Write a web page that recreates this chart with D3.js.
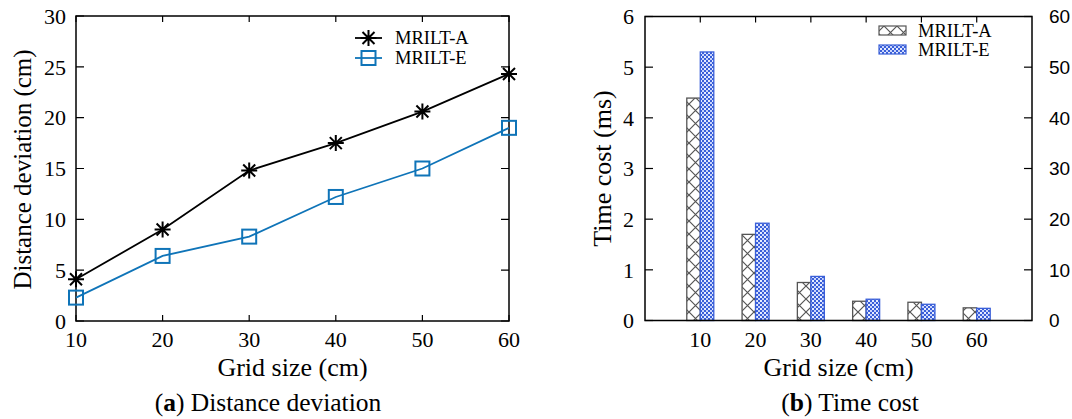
<!DOCTYPE html>
<html>
<head>
<meta charset="utf-8">
<script src="https://cdn.jsdelivr.net/npm/d3@7"></script>
<style>
  body { margin: 0; background: #fff; }
  text { font-family: "Liberation Serif", "Times New Roman", serif; fill: #000; }
</style>
</head>
<body>
<script>
// values
const gridSizes = [10, 20, 30, 40, 50, 60];
const seriesNames = ["MRILT-A", "MRILT-E"];
const deviationA = [4.1, 9.0, 14.8, 17.5, 20.6, 24.3];
const deviationE = [2.3, 6.4, 8.3, 12.2, 15.0, 19.0];
const timeA = [4.39, 1.70, 0.75, 0.38, 0.36, 0.25];
const timeE = [5.30, 1.92, 0.87, 0.42, 0.32, 0.24];
const deviationTicks = [0, 5, 10, 15, 20, 25, 30];
const timeTicks = [0, 1, 2, 3, 4, 5, 6];
const rightTicks = [0, 10, 20, 30, 40, 50, 60];

const width = 1072, height = 419;
const blue = "#0f74b8";
const barBlue = "#3a5fd8";
const tickLen = 8;

const svg = d3.select("body").append("svg")
    .attr("width", width).attr("height", height);

// hatch patterns for the bars
const defs = svg.append("defs");
let cross = defs.append("pattern").attr("id", "cross")
    .attr("patternUnits", "userSpaceOnUse").attr("width", 13).attr("height", 13);
cross.append("rect").attr("width", 13).attr("height", 13).attr("fill", "#fff");
cross.append("path").attr("d", "M0,0L13,13M13,0L0,13")
    .attr("stroke", "#555").attr("stroke-width", 1.2);
let check = defs.append("pattern").attr("id", "check")
    .attr("patternUnits", "userSpaceOnUse").attr("width", 4).attr("height", 4);
check.append("rect").attr("width", 4).attr("height", 4).attr("fill", barBlue);
check.append("rect").attr("width", 2).attr("height", 2).attr("fill", "#e6ecff");
check.append("rect").attr("x", 2).attr("y", 2).attr("width", 2).attr("height", 2).attr("fill", "#c9d4fb");

function frame(g, x0, x1, y0, y1) {
    g.append("rect").attr("x", x0).attr("y", y0)
        .attr("width", x1 - x0).attr("height", y1 - y0)
        .attr("fill", "none").attr("stroke", "#000").attr("stroke-width", 1.5);
}

// ---------- (a) distance deviation ----------
{
    const L = 76, R = 509, T = 16, B = 321;
    const x = d3.scaleLinear().domain([10, 60]).range([L, R]);
    const y = d3.scaleLinear().domain([0, 30]).range([B, T]);
    const g = svg.append("g");

    // inward ticks on all four sides
    g.selectAll(".yt").data(deviationTicks).enter().append("path")
        .attr("d", d => `M${L},${y(d)}h${tickLen}M${R},${y(d)}h${-tickLen}`)
        .attr("stroke", "#000").attr("stroke-width", 1.2);
    g.selectAll(".xt").data(gridSizes).enter().append("path")
        .attr("d", d => `M${x(d)},${T}v${tickLen - 2}M${x(d)},${B}v${-(tickLen - 2)}`)
        .attr("stroke", "#000").attr("stroke-width", 1.2);
    frame(g, L, R, T, B);

    g.selectAll(".yl").data(deviationTicks).enter().append("text")
        .attr("x", L - 10).attr("y", d => y(d)).attr("dy", "0.35em")
        .attr("text-anchor", "end").style("font-size", "22px").text(d => d);
    g.selectAll(".xl").data(gridSizes).enter().append("text")
        .attr("x", d => x(d)).attr("y", 347)
        .attr("text-anchor", "middle").style("font-size", "22px").text(d => d);

    g.append("text").attr("x", (L + R) / 2).attr("y", 376)
        .attr("text-anchor", "middle").style("font-size", "26px").text("Grid size (cm)");
    g.append("text").attr("transform", `translate(31,${(T + B) / 2 + 1}) rotate(-90)`)
        .attr("text-anchor", "middle").style("font-size", "25px").text("Distance deviation (cm)");

    const line = d3.line().x((d, i) => x(gridSizes[i])).y(d => y(d));
    g.append("path").datum(deviationA).attr("d", line)
        .attr("fill", "none").attr("stroke", "#000").attr("stroke-width", 1.8);
    g.append("path").datum(deviationE).attr("d", line)
        .attr("fill", "none").attr("stroke", blue).attr("stroke-width", 1.8);

    const star = "M-8,0H8M0,-8V8M-6,-6L6,6M-6,6L6,-6";
    g.selectAll(".sa").data(deviationA).enter().append("path")
        .attr("transform", (d, i) => `translate(${x(gridSizes[i])},${y(d)})`)
        .attr("d", star).attr("stroke", "#000").attr("stroke-width", 2);
    g.selectAll(".se").data(deviationE).enter().append("rect")
        .attr("x", (d, i) => x(gridSizes[i]) - 7).attr("y", d => y(d) - 7)
        .attr("width", 14).attr("height", 14)
        .attr("fill", "none").attr("stroke", blue).attr("stroke-width", 2);

    // legend
    g.append("path").attr("d", "M355,38H382").attr("stroke", "#000").attr("stroke-width", 1.8);
    g.append("path").attr("transform", "translate(368.5,38)").attr("d", star)
        .attr("stroke", "#000").attr("stroke-width", 2);
    g.append("path").attr("d", "M355,58H382").attr("stroke", blue).attr("stroke-width", 1.8);
    g.append("rect").attr("x", 361.5).attr("y", 51).attr("width", 14).attr("height", 14)
        .attr("fill", "none").attr("stroke", blue).attr("stroke-width", 2);
    g.selectAll(".lg").data(seriesNames).enter().append("text")
        .attr("x", 395).attr("y", (d, i) => 44 + i * 20)
        .style("font-size", "18.5px").text(d => d);

    g.append("text").attr("x", 268).attr("y", 411).attr("text-anchor", "middle")
        .style("font-size", "25.5px")
        .html('(<tspan font-weight="bold">a</tspan>) Distance deviation');
}

// ---------- (b) time cost ----------
{
    const L = 645, R = 1032, T = 16.5, B = 320.5;
    const x = d3.scaleLinear().domain([0, 70]).range([L, R]);
    const y = d3.scaleLinear().domain([0, 6]).range([B, T]);
    const y2 = d3.scaleLinear().domain([0, 60]).range([B, T]);
    const bw = 13.5;
    const g = svg.append("g");

    g.selectAll(".ba").data(timeA).enter().append("rect")
        .attr("x", (d, i) => x(gridSizes[i]) - bw).attr("y", d => y(d))
        .attr("width", bw).attr("height", d => B - y(d))
        .attr("fill", "url(#cross)").attr("stroke", "#555").attr("stroke-width", 1.3);
    g.selectAll(".be").data(timeE).enter().append("rect")
        .attr("x", (d, i) => x(gridSizes[i])).attr("y", d => y(d))
        .attr("width", bw).attr("height", d => B - y(d))
        .attr("fill", "url(#check)").attr("stroke", barBlue).attr("stroke-width", 1.3);

    g.selectAll(".yt").data(timeTicks).enter().append("path")
        .attr("d", d => `M${L},${y(d)}h${tickLen}`)
        .attr("stroke", "#000").attr("stroke-width", 1.2);
    g.selectAll(".y2t").data(rightTicks).enter().append("path")
        .attr("d", d => `M${R},${y2(d)}h${-tickLen}`)
        .attr("stroke", "#000").attr("stroke-width", 1.2);
    g.selectAll(".xt").data(gridSizes).enter().append("path")
        .attr("d", d => `M${x(d)},${T}v${tickLen - 2}`)
        .attr("stroke", "#000").attr("stroke-width", 1.2);
    frame(g, L, R, T, B);

    g.selectAll(".yl").data(timeTicks).enter().append("text")
        .attr("x", L - 11).attr("y", d => y(d)).attr("dy", "0.35em")
        .attr("text-anchor", "end").style("font-size", "22px").text(d => d);
    g.selectAll(".y2l").data(rightTicks).enter().append("text")
        .attr("x", R + 17).attr("y", d => y2(d)).attr("dy", "0.36em")
        .style("font-family", "'Liberation Sans', Arial, sans-serif")
        .style("font-size", "19px").text(d => d);
    g.selectAll(".xl").data(gridSizes).enter().append("text")
        .attr("x", d => x(d)).attr("y", 347)
        .attr("text-anchor", "middle").style("font-size", "22px").text(d => d);

    g.append("text").attr("x", (L + R) / 2).attr("y", 376)
        .attr("text-anchor", "middle").style("font-size", "26px").text("Grid size (cm)");
    g.append("text").attr("transform", `translate(611,${(T + B) / 2}) rotate(-90)`)
        .attr("text-anchor", "middle").style("font-size", "26px").text("Time cost (ms)");

    // legend
    g.append("rect").attr("x", 879).attr("y", 26).attr("width", 27).attr("height", 9)
        .attr("fill", "url(#cross)").attr("stroke", "#555").attr("stroke-width", 1.2);
    g.append("rect").attr("x", 879).attr("y", 45).attr("width", 27).attr("height", 9)
        .attr("fill", "url(#check)").attr("stroke", barBlue).attr("stroke-width", 1.2);
    g.selectAll(".lg").data(seriesNames).enter().append("text")
        .attr("x", 918).attr("y", (d, i) => 37 + i * 19)
        .style("font-size", "18.5px").text(d => d);

    g.append("text").attr("x", 850).attr("y", 411).attr("text-anchor", "middle")
        .style("font-size", "25.5px")
        .html('(<tspan font-weight="bold">b</tspan>) Time cost');
}
</script>
</body>
</html>
